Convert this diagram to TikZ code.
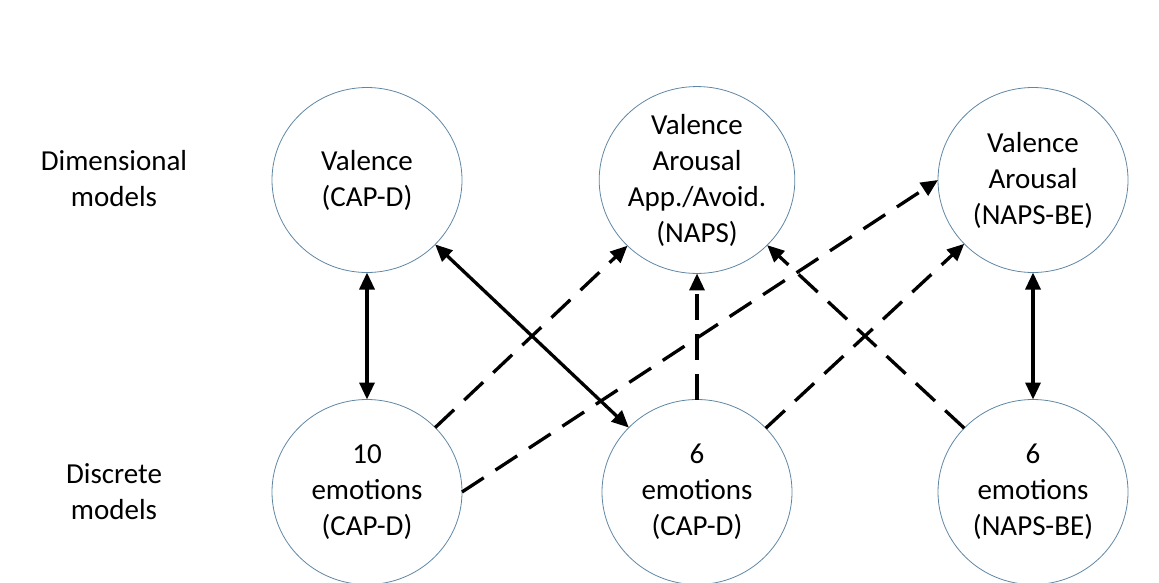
\documentclass[tikz,border=0pt]{standalone}
\usepackage{fontspec}
\setmainfont{Carlito}
\usetikzlibrary{arrows.meta,shapes.geometric}
\definecolor{circ}{RGB}{95,135,165}
\begin{document}
\begin{tikzpicture}[x=1pt,y=-1pt,
 model/.style={ellipse,draw=circ,line width=0.8pt,minimum width=190pt,minimum height=185pt,inner sep=0pt,outer sep=0pt,align=center,font=\fontsize{29}{36}\selectfont},
 lbl/.style={align=center,font=\fontsize{29}{36}\selectfont},
 link/.style={line width=3.3pt,-{Triangle[length=17pt,width=15pt]}},
 both/.style={line width=3.3pt,{Triangle[length=17pt,width=15pt]}-{Triangle[length=17pt,width=15pt]}},
 dsh/.style={dash pattern=on 26pt off 14pt}]
\useasboundingbox (0,0) rectangle (1159,582);
\node[model] (v1) at (367,180) {Valence\\(CAP-D)};
\node[model] (v2) at (697,180) {Valence\\Arousal\\App./Avoid.\\(NAPS)};
\node[model] (v3) at (1033,180) {Valence\\Arousal\\(NAPS-BE)};
\node[model] (d1) at (367,492) {10\\emotions\\(CAP-D)};
\node[model] (d2) at (697,492) {6\\emotions\\(CAP-D)};
\node[model] (d3) at (1033,492) {6\\emotions\\(NAPS-BE)};
\node[lbl] (ldim) at (114,179) {Dimensional\\models};
\node[lbl] (ldis) at (114,492) {Discrete\\models};
\draw[both] (v1) -- (d1);
\draw[both] (v3) -- (d3);
\draw[both] (v1) -- (d2);
\draw[link,dsh] (d2) -- (v2);
\draw[link,dsh] (d1) -- (v2);
\draw[link,dsh] (d1.east) -- (v3.west);
\draw[link,dsh] (d2) -- (v3);
\draw[link,dsh] (d3) -- (v2);
\end{tikzpicture}
\end{document}
